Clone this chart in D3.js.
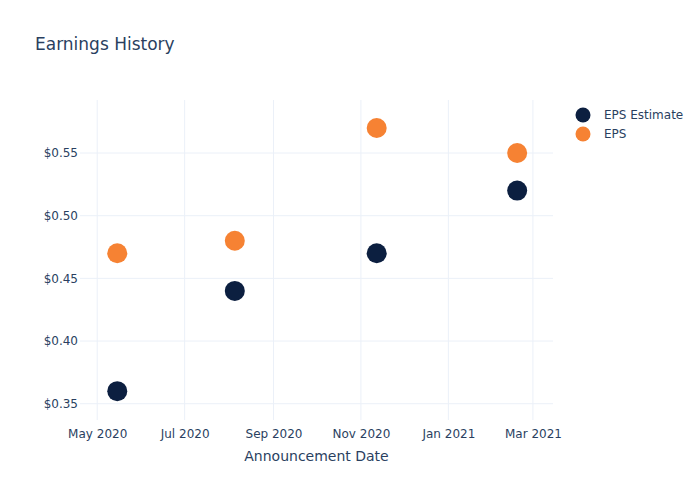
<!DOCTYPE html>
<html><head><meta charset="utf-8">
<script src="https://cdn.jsdelivr.net/npm/d3@7"></script>
<style>body{margin:0;background:#fff}svg{display:block}</style>
</head><body>
<svg id="c" width="700" height="500"></svg>
<script>
const dates = ["2020-05-15", "2020-08-05", "2020-11-12", "2021-02-18"];
const epsEstimate = [0.36, 0.44, 0.47, 0.52];
const eps = [0.47, 0.48, 0.57, 0.55];
const seriesNames = ["EPS Estimate", "EPS"];
const seriesColors = ["#0c1f40", "#f68233"];
const yTicks = [0.35, 0.40, 0.45, 0.50, 0.55];
const xTicks = ["2020-05-01", "2020-07-01", "2020-09-01", "2020-11-01", "2021-01-01", "2021-03-01"];

const parse = d3.utcParse("%Y-%m-%d");
const font = "'DejaVu Sans', Verdana, sans-serif";
const textColor = "#2a3f5f";
const gridColor = "#ebf0f8";
const L = 80, R = 553, T = 100, B = 420;

const svg = d3.select("#c");
const x = d3.scaleUtc().domain([parse("2020-04-19"), parse("2021-03-15")]).range([L, R]);
const y = d3.scaleLinear().domain([0.337, 0.5923]).range([B, T]);

// grid
svg.append("g").selectAll("line").data(xTicks).join("line")
  .attr("x1", d => x(parse(d))).attr("x2", d => x(parse(d)))
  .attr("y1", T).attr("y2", B).attr("stroke", gridColor).attr("stroke-width", 1);
svg.append("g").selectAll("line").data(yTicks).join("line")
  .attr("x1", L).attr("x2", R)
  .attr("y1", d => y(d)).attr("y2", d => y(d)).attr("stroke", gridColor).attr("stroke-width", 1);

// axes
const xAxis = d3.axisBottom(x).tickValues(xTicks.map(parse)).tickFormat(d3.utcFormat("%b %Y")).tickSize(0).tickPadding(9);
const gx = svg.append("g").attr("transform", `translate(0,${B})`).call(xAxis);
gx.select(".domain").remove();
gx.selectAll("text").attr("fill", textColor).attr("font-family", font).attr("font-size", 12);

const yAxis = d3.axisLeft(y).tickValues(yTicks).tickFormat(d => "$" + d3.format(".2f")(d)).tickSize(0).tickPadding(2);
const gy = svg.append("g").attr("transform", `translate(${L},0)`).call(yAxis);
gy.select(".domain").remove();
gy.selectAll("text").attr("fill", textColor).attr("font-family", font).attr("font-size", 12);

// points
const series = [epsEstimate, eps];
series.forEach((vals, i) => {
  svg.append("g").selectAll("circle").data(vals).join("circle")
    .attr("cx", (d, j) => x(parse(dates[j])))
    .attr("cy", d => y(d))
    .attr("r", 10)
    .attr("fill", seriesColors[i]);
});

// title
svg.append("text").attr("x", 35).attr("y", 50).text("Earnings History")
  .attr("fill", textColor).attr("font-family", font).attr("font-size", 17);

// x axis title
svg.append("text").attr("x", (L + R) / 2).attr("y", 461).attr("text-anchor", "middle")
  .text("Announcement Date").attr("fill", textColor).attr("font-family", font).attr("font-size", 14);

// legend
const lg = svg.append("g");
seriesNames.forEach((n, i) => {
  lg.append("circle").attr("cx", 583).attr("cy", 115 + i * 19).attr("r", 7.5).attr("fill", seriesColors[i]);
  lg.append("text").attr("x", 604).attr("y", 115 + i * 19).attr("dy", "0.35em").text(n)
    .attr("fill", textColor).attr("font-family", font).attr("font-size", 12);
});
</script>
</body></html>
